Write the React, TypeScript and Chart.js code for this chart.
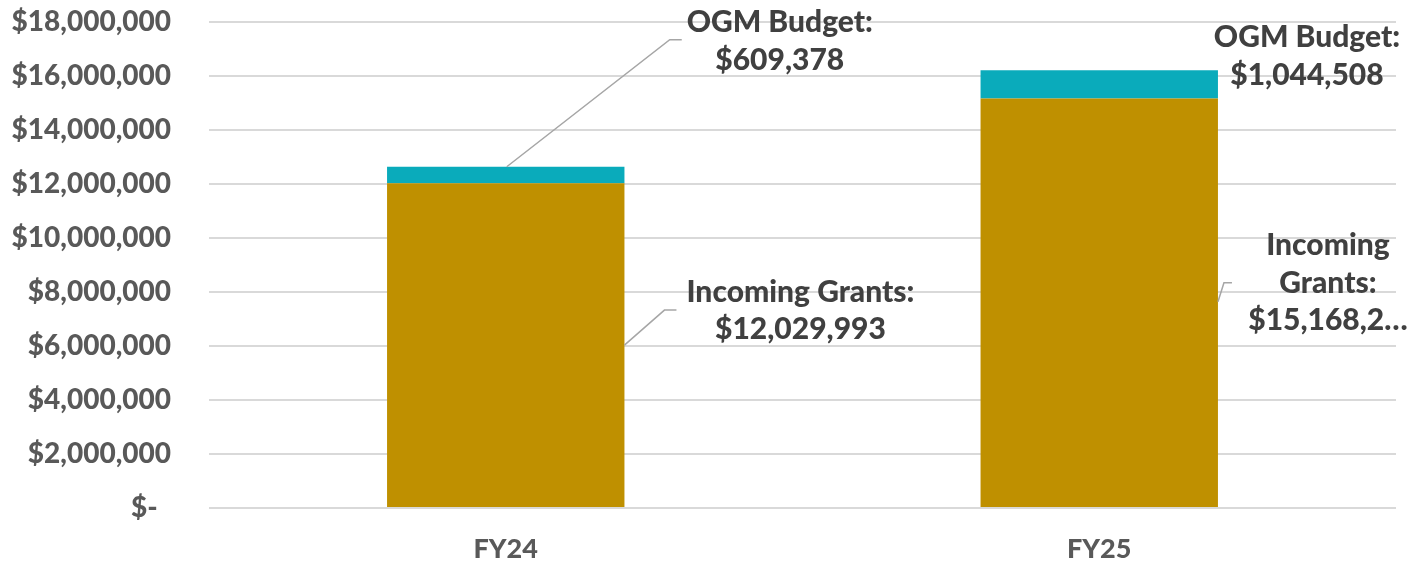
import React, { useEffect, useRef } from "react";
import { Chart, registerables } from "chart.js";

Chart.register(...registerables);

const categories = ["FY24", "FY25"];
const incomingGrants = [12029993, 15168236];
const ogmBudget = [609378, 1044508];
const yTicks = [0, 2000000, 4000000, 6000000, 8000000, 10000000, 12000000, 14000000, 16000000, 18000000];

const FONT = "Lato, 'Open Sans', sans-serif";
const GOLD = "#BF9000";
const TEAL = "#0AABBB";
const LABEL_COLOR = "#404040";
const TICK_COLOR = "#595959";

const fmt = (v: number) => "$" + v.toLocaleString("en-US");

type LabelSpec = {
  ds: number;
  idx: number;
  anchor: "top" | "rightMid";
  lines: string[];
  dx: number;
  dy: number;
  leader?: [number, number][];
};

const labelSpecs: LabelSpec[] = [
  { ds: 1, idx: 0, anchor: "top", lines: ["OGM Budget:", fmt(ogmBudget[0])], dx: 274, dy: -144, leader: [[1, 0], [164, -127], [176, -127]] },
  { ds: 0, idx: 0, anchor: "rightMid", lines: ["Incoming Grants:", fmt(incomingGrants[0])], dx: 176, dy: -53, leader: [[0, 0], [40, -35], [52, -35]] },
  { ds: 1, idx: 1, anchor: "rightMid", lines: ["OGM Budget:", fmt(ogmBudget[1])], dx: 89, dy: -47 },
  { ds: 0, idx: 1, anchor: "rightMid", lines: ["Incoming", "Grants:", fmt(incomingGrants[1]).slice(0, 9) + "…"], dx: 110, dy: -57, leader: [[0, -1], [6, -20], [14, -20]] },
];

const labelPlugin = {
  id: "leaderLabels",
  afterDatasetsDraw(chart: any) {
    const ctx = chart.ctx;
    ctx.save();
    ctx.font = `900 30px ${FONT}`;
    ctx.textAlign = "center";
    ctx.textBaseline = "middle";
    for (const s of labelSpecs) {
      const el = chart.getDatasetMeta(s.ds).data[s.idx] as any;
      const { x, y, base, width } = el.getProps(["x", "y", "base", "width"], true);
      let ax = x, ay = y;
      if (s.anchor === "rightMid") {
        ax = x + width / 2;
        ay = (y + base) / 2;
      }
      if (s.leader) {
        ctx.strokeStyle = "#A6A6A6";
        ctx.lineWidth = 1.5;
        ctx.beginPath();
        s.leader.forEach(([px, py], i) => {
          if (i === 0) ctx.moveTo(ax + px, ay + py);
          else ctx.lineTo(ax + px, ay + py);
        });
        ctx.stroke();
      }
      ctx.fillStyle = LABEL_COLOR;
      s.lines.forEach((t, i) => {
        ctx.fillText(t, ax + s.dx, ay + s.dy + i * 37.5);
      });
    }
    ctx.restore();
  },
};

export default function App() {
  const ref = useRef<HTMLCanvasElement>(null);
  useEffect(() => {
    if (!ref.current) return;
    const chart = new Chart(ref.current, {
      type: "bar",
      data: {
        labels: categories,
        datasets: [
          { label: "Incoming Grants", data: incomingGrants, backgroundColor: GOLD, barPercentage: 0.4, categoryPercentage: 1 },
          { label: "OGM Budget", data: ogmBudget, backgroundColor: TEAL, barPercentage: 0.4, categoryPercentage: 1 },
        ],
      },
      options: {
        animation: false,
        responsive: false,
        layout: { padding: { top: 22, right: 20, left: 0, bottom: 0 } },
        plugins: { legend: { display: false }, tooltip: { enabled: false } },
        scales: {
          x: {
            stacked: true,
            grid: { display: false },
            border: { display: false },
            ticks: { color: TICK_COLOR, font: { family: FONT, size: 27, weight: "900" }, padding: 17 },
            afterFit: (s: any) => { s.height = 54; s.paddingLeft = 0; s.paddingRight = 0; },
          },
          y: {
            stacked: true,
            min: 0,
            max: 18000000,
            afterBuildTicks: (s: any) => { s.ticks = yTicks.map((v) => ({ value: v })); },
            grid: { color: "#D9D9D9", lineWidth: 2, drawTicks: false },
            border: { display: false },
            ticks: {
              color: TICK_COLOR,
              font: { family: FONT, size: 28, weight: "900" },
              padding: 38,
              callback: (v: any) => (Number(v) === 0 ? "$-  " : fmt(Number(v))),
            },
            afterFit: (s: any) => { s.width = 209; s.paddingTop = 0; s.paddingBottom = 0; },
          },
        },
      },
      plugins: [labelPlugin],
    });
    return () => chart.destroy();
  }, []);
  return (
    <div style={{ position: "fixed", left: 0, top: 0, width: 1416, height: 562, background: "#fff" }}>
      <canvas ref={ref} width={1416} height={562} />
    </div>
  );
}
